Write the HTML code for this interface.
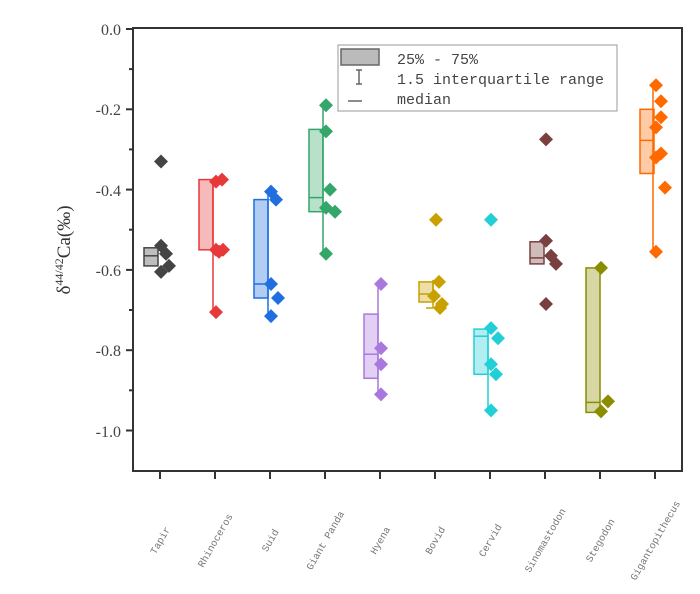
<!DOCTYPE html>
<html><head><style>body{margin:0;background:#fff}</style></head><body>
<svg width="700" height="589" xmlns="http://www.w3.org/2000/svg" font-family="Liberation Serif, serif">
<defs><path id="dm" d="M0 -7L7 0L0 7L-7 0Z"/></defs>
<rect width="700" height="589" fill="#fff"/>
<g stroke-width="1.5">
<!-- Tapir t=160 -->
<g stroke="#444" fill="#444">
<rect x="144" y="247.8" width="14" height="18.1" fill-opacity="0.35"/><line x1="144" y1="255.8" x2="158" y2="255.8"/>
<g stroke="none"><use href="#dm" x="161" y="161.5"/><use href="#dm" x="161" y="245.8"/><use href="#dm" x="166" y="253.8"/><use href="#dm" x="169" y="265.9"/><use href="#dm" x="161" y="271.9"/></g></g>
<!-- Rhino t=215 -->
<g stroke="#e8393a" fill="#e8393a">
<line x1="213" y1="179.6" x2="213" y2="312.1"/>
<rect x="199" y="179.6" width="14" height="70.2" fill-opacity="0.35"/>
<g stroke="none"><use href="#dm" x="216" y="181.6"/><use href="#dm" x="222" y="179.6"/><use href="#dm" x="216" y="249.8"/><use href="#dm" x="223" y="249.8"/><use href="#dm" x="219" y="251.8"/><use href="#dm" x="216" y="312.1"/></g></g>
<!-- Suid t=270 -->
<g stroke="#1f6fe0" fill="#1f6fe0">
<line x1="268" y1="191.6" x2="268" y2="316.1"/>
<rect x="254" y="199.6" width="14" height="98.4" fill-opacity="0.35"/><line x1="254" y1="284" x2="268" y2="284"/>
<g stroke="none"><use href="#dm" x="271" y="191.6"/><use href="#dm" x="276" y="199.6"/><use href="#dm" x="271" y="284"/><use href="#dm" x="278" y="298"/><use href="#dm" x="271" y="316.1"/></g></g>
<!-- Panda t=325 -->
<g stroke="#33a66a" fill="#33a66a">
<line x1="323" y1="105.3" x2="323" y2="253.8"/>
<rect x="309" y="129.4" width="14" height="82.3" fill-opacity="0.35"/><line x1="309" y1="197.6" x2="323" y2="197.6"/>
<g stroke="none"><use href="#dm" x="326" y="105.3"/><use href="#dm" x="326" y="131.4"/><use href="#dm" x="330" y="189.6"/><use href="#dm" x="326" y="207.7"/><use href="#dm" x="335" y="211.7"/><use href="#dm" x="326" y="253.8"/></g></g>
<!-- Hyena t=380 -->
<g stroke="#a978dd" fill="#a978dd">
<line x1="378" y1="284" x2="378" y2="392.4"/>
<rect x="364" y="314.1" width="14" height="64.2" fill-opacity="0.35"/><line x1="364" y1="354.2" x2="378" y2="354.2"/>
<g stroke="none"><use href="#dm" x="381" y="284"/><use href="#dm" x="381" y="348.2"/><use href="#dm" x="381" y="364.3"/><use href="#dm" x="381" y="394.4"/></g></g>
<!-- Bovid t=435 -->
<g stroke="#c8a000" fill="#c8a000">
<line x1="433" y1="279.9" x2="433" y2="308"/><line x1="426" y1="308" x2="433" y2="308"/>
<rect x="419" y="281.9" width="14" height="20.1" fill-opacity="0.35"/><line x1="419" y1="294" x2="433" y2="294"/>
<g stroke="none"><use href="#dm" x="436" y="219.7"/><use href="#dm" x="439" y="281.9"/><use href="#dm" x="434" y="296"/><use href="#dm" x="442" y="304"/><use href="#dm" x="440" y="308"/></g></g>
<!-- Cervid t=490 -->
<g stroke="#22cfd6" fill="#22cfd6">
<line x1="488" y1="328.1" x2="488" y2="410.4"/>
<rect x="474" y="329.1" width="14" height="45.2" fill-opacity="0.35"/><line x1="474" y1="336.2" x2="488" y2="336.2"/>
<g stroke="none"><use href="#dm" x="491" y="219.7"/><use href="#dm" x="491" y="328.1"/><use href="#dm" x="498" y="338.2"/><use href="#dm" x="491" y="364.3"/><use href="#dm" x="496" y="374.3"/><use href="#dm" x="491" y="410.4"/></g></g>
<!-- Sino t=545 -->
<g stroke="#7a4040" fill="#7a4040">
<rect x="530" y="241.8" width="14" height="22.1" fill-opacity="0.35"/><line x1="530" y1="257.9" x2="544" y2="257.9"/>
<g stroke="none"><use href="#dm" x="546" y="139.4"/><use href="#dm" x="546" y="240.8"/><use href="#dm" x="551" y="255.8"/><use href="#dm" x="556" y="263.9"/><use href="#dm" x="546" y="304"/></g></g>
<!-- Stegodon t=600 -->
<g stroke="#8c8c00" fill="#8c8c00">
<rect x="586" y="267.9" width="14" height="144.5" fill-opacity="0.35"/><line x1="586" y1="402.4" x2="600" y2="402.4"/>
<g stroke="none"><use href="#dm" x="601" y="267.9"/><use href="#dm" x="608" y="401.4"/><use href="#dm" x="601" y="411.4"/></g></g>
<!-- Giganto t=655 -->
<g stroke="#ff6a00" fill="#ff6a00">
<line x1="653" y1="85.2" x2="653" y2="251.8"/>
<rect x="640" y="109.3" width="14" height="64.2" fill-opacity="0.35"/><line x1="640" y1="140.4" x2="654" y2="140.4"/>
<g stroke="none"><use href="#dm" x="656" y="85.2"/><use href="#dm" x="661" y="101.3"/><use href="#dm" x="661" y="117.3"/><use href="#dm" x="656" y="127.4"/><use href="#dm" x="661" y="153.5"/><use href="#dm" x="656" y="157.5"/><use href="#dm" x="665" y="187.6"/><use href="#dm" x="656" y="251.8"/></g></g>
</g>
<rect x="133" y="28" width="549" height="443" fill="none" stroke="#333" stroke-width="2"/>
<g stroke="#333" stroke-width="2">
<line x1="126" y1="29" x2="133" y2="29"/><line x1="126" y1="109.3" x2="133" y2="109.3"/><line x1="126" y1="189.6" x2="133" y2="189.6"/><line x1="126" y1="269.9" x2="133" y2="269.9"/><line x1="126" y1="350.2" x2="133" y2="350.2"/><line x1="126" y1="430.5" x2="133" y2="430.5"/>
<line x1="129" y1="69.1" x2="133" y2="69.1"/><line x1="129" y1="149.4" x2="133" y2="149.4"/><line x1="129" y1="229.7" x2="133" y2="229.7"/><line x1="129" y1="310" x2="133" y2="310"/><line x1="129" y1="390.3" x2="133" y2="390.3"/>
<line x1="160" y1="471" x2="160" y2="479"/><line x1="215" y1="471" x2="215" y2="479"/><line x1="270" y1="471" x2="270" y2="479"/><line x1="325" y1="471" x2="325" y2="479"/><line x1="380" y1="471" x2="380" y2="479"/><line x1="435" y1="471" x2="435" y2="479"/><line x1="490" y1="471" x2="490" y2="479"/><line x1="545" y1="471" x2="545" y2="479"/><line x1="600" y1="471" x2="600" y2="479"/><line x1="655" y1="471" x2="655" y2="479"/>
</g>
<g font-size="16" fill="#444" text-anchor="end">
<text x="121" y="35">0.0</text><text x="121" y="115">-0.2</text><text x="121" y="196">-0.4</text><text x="121" y="276">-0.6</text><text x="121" y="356">-0.8</text><text x="121" y="437">-1.0</text>
</g>
<text transform="translate(70,250) rotate(-90)" font-size="19" fill="#333" text-anchor="middle">δ<tspan font-size="12" dy="-7">44/42</tspan><tspan dy="7">Ca(‰)</tspan></text>
<g font-size="10" fill="#777" text-anchor="middle" font-family="Liberation Mono, monospace">
<text transform="translate(163,542) rotate(-60)">Tapir</text>
<text transform="translate(218,542) rotate(-60)">Rhinoceros</text>
<text transform="translate(273,542) rotate(-60)">Suid</text>
<text transform="translate(328,542) rotate(-60)">Giant Panda</text>
<text transform="translate(383,542) rotate(-60)">Hyena</text>
<text transform="translate(438,542) rotate(-60)">Bovid</text>
<text transform="translate(493,542) rotate(-60)">Cervid</text>
<text transform="translate(548,542) rotate(-60)">Sinomastodon</text>
<text transform="translate(603,542) rotate(-60)">Stegodon</text>
<text transform="translate(658,542) rotate(-60)">Gigantopithecus</text>
</g>
<rect x="338" y="45" width="279" height="66" fill="#fff" stroke="#999"/>
<rect x="341" y="49" width="38" height="16" fill="#bbb" stroke="#666" stroke-width="1.5"/>
<path d="M356 70 h6 M359 70 v14 M356 84 h6 M348 101 h14" stroke="#666" stroke-width="1.5"/>
<g font-family="Liberation Mono, monospace" font-size="15" fill="#444">
<text x="397" y="64">25% - 75%</text><text x="397" y="84">1.5 interquartile range</text><text x="397" y="104">median</text>
</g>
</svg>
</body></html>
